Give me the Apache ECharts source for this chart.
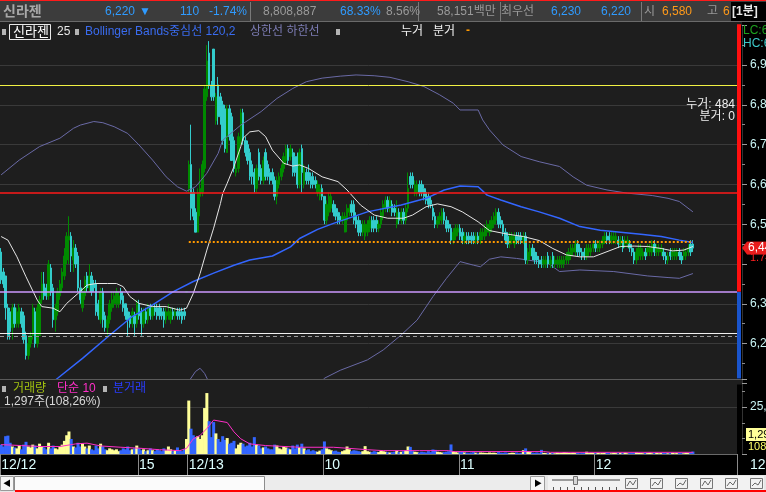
<!DOCTYPE html>
<html>
<head>
<meta charset="utf-8">
<script src="https://cdn.jsdelivr.net/npm/echarts@6.0.0/dist/echarts.min.js"></script>
<style>
html,body{margin:0;padding:0;background:#000;overflow:hidden}
#chart{width:766px;height:492px}
</style>
</head>
<body>
<div id="chart"></div>
<script>
// ================= DATA =================
// 1-minute candles [open, close, low, high]; 12/12 13:59..15:20, 15:30, then 12/13 09:00..12:43
const ohlc = [
[6430,6360,6350,6440],[6380,6350,6340,6390],[6370,6290,6260,6370],[6290,6220,6210,6300],[6280,6230,6210,6290],
[6240,6290,6210,6300],[6290,6250,6240,6300],[6250,6280,6240,6290],[6250,6290,6240,6300],[6280,6250,6240,6290],
[6270,6210,6200,6280],[6220,6170,6160,6230],[6170,6200,6160,6220],[6200,6220,6190,6230],[6220,6290,6210,6300],
[6280,6200,6190,6290],[6200,6290,6190,6300],[6220,6310,6220,6320],[6310,6350,6300,6380],[6350,6320,6310,6380],
[6340,6320,6310,6350],[6320,6400,6310,6410],[6390,6330,6320,6400],[6340,6260,6240,6350],[6260,6290,6230,6300],
[6280,6330,6270,6340],[6320,6350,6310,6360],[6340,6380,6330,6390],[6370,6420,6360,6440],[6410,6470,6400,6480],
[6460,6470,6400,6520],[6470,6420,6380,6480],[6410,6440,6380,6460],[6440,6400,6390,6450],[6420,6340,6330,6430],
[6340,6310,6300,6360],[6290,6330,6280,6340],[6320,6360,6310,6370],[6370,6340,6330,6380],[6340,6370,6330,6400],
[6370,6330,6320,6380],[6350,6340,6330,6360],[6350,6280,6270,6360],[6300,6270,6260,6310],[6260,6330,6250,6340],
[6330,6260,6240,6340],[6270,6240,6230,6280],[6240,6260,6220,6270],[6260,6300,6250,6310],[6290,6310,6280,6330],
[6300,6320,6290,6330],[6300,6330,6290,6340],[6300,6320,6290,6330],[6330,6310,6300,6340],[6320,6290,6280,6330],
[6300,6270,6260,6300],[6280,6260,6220,6290],[6270,6250,6240,6280],[6250,6280,6240,6290],[6270,6250,6220,6280],
[6250,6300,6240,6310],[6300,6270,6260,6310],[6280,6250,6220,6290],[6250,6280,6240,6290],[6280,6260,6250,6290],
[6260,6290,6250,6300],[6290,6270,6260,6300],[6270,6290,6260,6300],[6290,6280,6270,6300],[6290,6270,6260,6300],
[6290,6270,6260,6300],[6280,6270,6260,6290],[6280,6260,6240,6290],[6260,6280,6250,6290],[6270,6280,6260,6300],
[6260,6280,6250,6290],[6280,6270,6260,6290],[6270,6280,6260,6290],[6280,6270,6260,6290],[6280,6270,6260,6290],
[6280,6260,6250,6290],[6280,6270,6260,6290],[6330,6330,6330,6330],
[6590,6650,6580,6660],[6650,6540,6510,6750],[6580,6520,6510,6590],[6530,6480,6480,6540],[6480,6580,6480,6590],
[6570,6590,6520,6640],[6580,6650,6570,6660],[6640,6840,6630,6850],[6820,6910,6810,6950],[6930,6850,6840,6960],
[6850,6820,6810,6860],[6940,6820,6810,6940],[6760,6820,6750,6830],[6850,6770,6750,6870],[6820,6770,6750,6830],
[6800,6710,6700,6810],[6790,6690,6680,6800],[6680,6790,6680,6800],[6790,6720,6710,6800],[6770,6660,6660,6780],
[6710,6640,6630,6720],[6630,6640,6620,6650],[6640,6720,6630,6730],[6710,6780,6700,6790],[6780,6710,6700,6790],
[6710,6680,6670,6720],[6700,6660,6650,6710],[6680,6620,6610,6690],[6650,6620,6600,6660],[6630,6600,6580,6640],
[6590,6640,6580,6650],[6680,6620,6610,6690],[6640,6610,6600,6650],[6610,6660,6600,6670],[6680,6620,6610,6690],
[6650,6620,6610,6660],[6630,6610,6600,6640],[6630,6610,6600,6640],[6610,6570,6560,6620],[6570,6610,6550,6620],
[6600,6620,6590,6630],[6620,6640,6610,6650],[6640,6670,6630,6680],[6660,6690,6650,6700],[6690,6660,6650,6700],
[6670,6690,6660,6700],[6680,6630,6620,6690],[6670,6630,6620,6680],[6670,6600,6590,6680],[6600,6680,6590,6690],
[6690,6630,6580,6700],[6600,6640,6590,6650],[6630,6610,6600,6640],[6630,6610,6600,6650],[6620,6600,6590,6630],
[6620,6600,6590,6630],[6610,6600,6590,6620],[6580,6600,6570,6610],[6570,6590,6560,6600],[6590,6570,6560,6600],
[6570,6510,6500,6570],[6510,6550,6500,6560],[6530,6570,6520,6580],[6540,6570,6530,6580],[6550,6530,6520,6560],
[6540,6520,6510,6550],[6530,6510,6500,6540],[6520,6510,6500,6530],[6510,6520,6500,6530],[6480,6520,6480,6530],
[6510,6540,6480,6550],[6530,6540,6520,6550],[6550,6530,6520,6560],[6550,6510,6500,6560],[6520,6500,6490,6530],
[6510,6480,6470,6520],[6500,6480,6470,6510],[6480,6500,6470,6510],[6470,6500,6460,6510],[6480,6500,6470,6510],
[6490,6510,6480,6520],[6510,6490,6480,6520],[6510,6490,6480,6520],[6510,6490,6480,6520],[6490,6500,6480,6510],
[6500,6530,6490,6540],[6520,6550,6510,6560],[6540,6560,6530,6570],[6560,6540,6530,6570],[6540,6560,6530,6570],
[6550,6530,6520,6560],[6540,6530,6520,6550],[6500,6530,6490,6560],[6530,6510,6500,6540],[6510,6530,6500,6540],
[6530,6510,6500,6540],[6510,6540,6500,6550],[6540,6590,6530,6630],[6620,6600,6590,6630],[6620,6600,6590,6630],
[6580,6600,6570,6610],[6580,6600,6570,6610],[6600,6580,6570,6610],[6600,6580,6570,6610],[6590,6570,6560,6600],
[6580,6560,6550,6590],[6570,6550,6540,6580],[6560,6550,6540,6570],[6540,6520,6510,6550],[6520,6500,6490,6530],
[6500,6510,6490,6520],[6510,6520,6500,6530],[6510,6530,6500,6540],[6530,6510,6500,6540],[6510,6490,6480,6520],
[6500,6490,6480,6510],[6490,6460,6450,6500],[6460,6480,6450,6490],[6470,6490,6460,6500],[6480,6490,6470,6500],
[6490,6470,6460,6500],[6480,6460,6450,6490],[6460,6470,6450,6480],[6470,6460,6450,6480],[6470,6460,6450,6480],
[6470,6460,6450,6480],[6470,6460,6450,6480],[6460,6470,6450,6480],[6470,6460,6450,6480],[6460,6480,6450,6490],
[6470,6480,6460,6490],[6470,6490,6460,6500],[6480,6500,6470,6510],[6480,6500,6470,6510],[6490,6510,6480,6520],
[6500,6520,6490,6530],[6510,6530,6500,6540],[6530,6500,6490,6540],[6510,6500,6490,6520],[6500,6480,6470,6510],
[6480,6460,6450,6490],[6470,6450,6440,6480],[6450,6470,6440,6480],[6460,6470,6450,6480],[6450,6470,6440,6480],
[6470,6460,6450,6480],[6470,6460,6450,6480],[6470,6460,6450,6480],[6460,6470,6450,6480],[6470,6410,6400,6480],
[6410,6430,6400,6440],[6420,6440,6410,6450],[6440,6420,6410,6450],[6430,6410,6400,6440],[6420,6410,6400,6430],
[6410,6400,6390,6420],[6410,6400,6390,6420],[6400,6410,6390,6420],[6400,6410,6390,6420],[6420,6400,6390,6430],
[6400,6410,6390,6420],[6420,6400,6390,6430],[6400,6410,6390,6420],[6400,6410,6390,6420],[6400,6410,6390,6420],
[6400,6410,6390,6420],[6400,6410,6390,6420],[6410,6420,6400,6430],[6410,6430,6400,6440],[6420,6440,6410,6450],
[6430,6440,6420,6450],[6430,6450,6420,6460],[6450,6430,6420,6460],[6440,6430,6420,6450],[6430,6420,6410,6440],
[6430,6420,6410,6440],[6420,6440,6410,6450],[6430,6440,6420,6450],[6430,6440,6420,6450],[6440,6450,6430,6460],
[6450,6440,6430,6460],[6440,6450,6430,6460],[6440,6450,6430,6460],[6450,6460,6440,6470],[6460,6470,6450,6480],
[6470,6460,6450,6480],[6470,6460,6450,6480],[6460,6470,6450,6480],[6460,6470,6450,6480],[6460,6470,6450,6480],
[6460,6450,6440,6470],[6450,6460,6440,6470],[6460,6440,6430,6470],[6450,6460,6440,6470],[6450,6460,6440,6470],
[6450,6440,6430,6460],[6440,6430,6420,6450],[6430,6410,6400,6440],[6410,6430,6400,6440],[6420,6440,6410,6450],
[6420,6440,6410,6450],[6420,6430,6410,6440],[6430,6420,6410,6440],[6430,6440,6420,6450],[6430,6440,6420,6450],
[6430,6450,6420,6460],[6450,6430,6420,6460],[6430,6440,6420,6450],[6430,6440,6420,6450],[6430,6440,6420,6450],
[6430,6420,6410,6440],[6420,6410,6400,6430],[6410,6420,6400,6430],[6430,6420,6410,6440],[6420,6430,6410,6440],
[6420,6430,6410,6440],[6420,6430,6410,6440],[6430,6420,6410,6440],[6420,6410,6400,6430],[6420,6430,6410,6440],
[6420,6430,6410,6440],[6430,6440,6420,6450],[6450,6430,6420,6460],[6450,6440,6430,6460]
];

const volume = [
5000,4000,9500,9800,6000,4000,3500,3000,4500,2500,
5000,6500,4000,3500,5000,4500,3000,5500,4000,3500,
2500,6000,3000,4500,3000,2500,4000,5000,7000,10000,
12000,8000,4000,3500,6000,4000,5500,4000,3000,4500,
2500,2000,4500,3000,5500,4000,2500,2000,3000,2500,
2000,2500,1500,2000,3000,2500,4000,2000,2500,3000,
4500,3000,2000,2500,1500,2000,3000,2000,1500,2500,
2000,1500,3000,2000,4000,2500,1500,2000,3500,2000,
1500,2500,8000,
28500,13500,10000,9000,9500,8000,10000,24500,32500,17500,
9000,17000,11000,8000,6500,9500,7500,8500,5500,6000,
7000,3000,5000,6000,5500,4000,4500,6000,4000,9000,
5000,4500,3000,3500,4000,3000,2500,2500,5000,4500,
3000,2500,4000,3500,3000,2500,4500,3000,5000,3500,
5500,3000,2000,2500,1500,2000,1500,1200,1800,2500,
6700,3000,2500,2000,1500,1800,1200,1000,1500,2000,
4000,2500,1500,2000,1800,1500,1200,1500,4200,1500,
1200,1000,1500,1200,1000,1800,1500,1200,1000,800,
1000,1200,1800,1000,1200,1500,2000,4000,3800,1500,
1200,1000,800,1200,1000,800,1500,1000,2400,2200,
1200,1000,800,1000,1200,1500,5100,1500,1000,800,
1000,1200,800,700,600,800,1000,700,600,800,
700,600,500,800,600,700,500,1000,700,600,
800,600,500,700,600,800,500,600,2000,3000,
1500,1000,700,600,800,500,2200,600,500,700,
500,600,400,700,500,600,1000,800,600,500,
700,500,600,400,500,600,1200,500,700,600,
500,600,400,500,600,800,500,400,600,500,
400,600,500,700,400,500,600,500,800,600,
500,400,600,500,700,400,500,600,400,500,
600,500,400,500,600,400,500,700,500,400,
600,500,700,1297
];

// indicator lines: [candle index, value]
const ma25Points = [[0,6469],[3,6460],[7,6418],[11,6368],[16,6309],[18,6293],[23,6289],[26,6280],[29,6301],[34,6326],[38,6347],[42,6351],[47,6351],[51,6351],[54,6343],[57,6318],[61,6301],[67,6293],[73,6293],[79,6284],[82,6289],[85,6326],[88,6376],[91,6435],[94,6490],[97,6552],[98,6577],[100,6603],[103,6645],[106,6695],[107,6716],[110,6732],[114,6735],[117,6720],[120,6686],[125,6653],[129,6646],[132,6649],[136,6640],[142,6619],[149,6607],[153,6586],[159,6548],[165,6523],[171,6515],[178,6515],[182,6523],[188,6544],[193,6551],[199,6544],[204,6531],[211,6506],[216,6484],[224,6475],[231,6469],[238,6459],[244,6439],[250,6423],[256,6418],[262,6418],[268,6431],[274,6444],[280,6445],[286,6444],[292,6439],[297,6433],[302,6435],[306,6444]];
const bbMidPoints = [[13,6060],[25,6113],[36,6163],[48,6221],[58,6268],[67,6297],[76,6330],[85,6356],[94,6377],[103,6397],[110,6410],[120,6420],[128,6443],[132,6464],[140,6487],[147,6502],[162,6531],[177,6548],[188,6565],[196,6586],[203,6596],[211,6594],[215,6573],[221,6561],[230,6544],[238,6531],[247,6515],[256,6494],[265,6485],[274,6480],[283,6475],[292,6469],[300,6460],[306,6454]];
const bbUpperPoints = [[0,6624],[8,6661],[17,6695],[26,6716],[32,6741],[35,6749],[41,6758],[45,6755],[50,6745],[56,6728],[61,6699],[67,6661],[73,6619],[78,6594],[82,6583],[86,6594],[91,6628],[96,6678],[98,6711],[106,6749],[115,6783],[122,6816],[129,6841],[135,6858],[142,6867],[150,6872],[157,6875],[165,6873],[172,6869],[180,6858],[187,6846],[194,6825],[200,6804],[203,6787],[211,6787],[213,6762],[216,6737],[222,6699],[230,6670],[238,6657],[247,6645],[253,6619],[259,6598],[268,6586],[277,6578],[288,6572],[295,6565],[300,6557],[306,6531]];
const bbLowerPoints = [[75,6040],[83,6105],[86,6130],[88,6138],[90,6125],[93,6090],[101,6020],[123,6000],[137,6070],[143,6113],[150,6133],[162,6159],[169,6184],[177,6222],[184,6259],[191,6318],[197,6364],[203,6406],[209,6397],[212,6393],[216,6412],[221,6418],[228,6414],[233,6410],[242,6402],[247,6381],[256,6385],[271,6381],[286,6370],[295,6366],[300,6364],[306,6376]];
const volMa10Points = [[0,5000],[9,4500],[17,4000],[26,4000],[33,5400],[38,5800],[44,4300],[53,3600],[61,3100],[70,2300],[79,1800],[82,3000],[85,8100],[88,9900],[91,13600],[94,18100],[100,16800],[103,11800],[106,8100],[110,5400],[117,4500],[132,3600],[147,3600],[162,2300],[169,1800],[185,1800],[198,1800],[200,1300],[240,1300],[243,900],[306,900]];

// horizontal reference levels
const levelHigh = 6850, levelOpen = 6580, prevClose = 6330, levelWhite = 6225, currentLine = 6219, avgLine = 6455;
const avgLineFrom = 83, avgLineTo = 306;

// time axis
const tickIndex = [0, 61, 83, 143, 203, 263];
const tickText = ['12/12', '15', '12/13', '10', '11', '12'];
const SLOTS = 326;

// ================= BUILD =================
function hm(m){return String(Math.floor(m/60)).padStart(2,'0')+':'+String(m%60).padStart(2,'0');}
const categories = [];
for (let i = 0; i < SLOTS; i++) {
  if (i < 82) categories.push('12/12 ' + hm(13*60+59+i));
  else if (i === 82) categories.push('12/12 15:30');
  else categories.push('12/13 ' + hm(9*60 + i - 83));
}
const lastClose = ohlc[ohlc.length-1][1];
function isUp(i){
  const d = ohlc[i];
  if (d[1] !== d[0]) return d[1] > d[0];
  return i === 0 ? true : ohlc[i-1][1] <= d[1];
}
const FONT = '"Liberation Sans","Noto Sans CJK KR",sans-serif';
const UP = '#008a00', DOWN = '#33cccc';

const chart = echarts.init(document.getElementById('chart'), null, {renderer:'canvas'});
const option = {
  animation: false,
  backgroundColor: '#000',
  grid: [
    {left:0, right:29, top:25.2, height:358.2, show:true, backgroundColor:'#1e1e1e', borderWidth:0, containLabel:false, outerBoundsMode:'none'},
    {left:0, right:29, top:379, height:75, show:true, backgroundColor:'#1e1e1e', borderWidth:0, containLabel:false, outerBoundsMode:'none'}
  ],
  xAxis: [
    {type:'category', gridIndex:0, data:categories, boundaryGap:true, show:false},
    {type:'category', gridIndex:1, data:categories, boundaryGap:true,
     axisLine:{show:true, lineStyle:{color:'#6a6a6a'}},
     axisTick:{show:true, interval:(i)=>tickIndex.includes(i), length:21, lineStyle:{color:'#8a8a8a'}},
     axisLabel:{show:true, interval:(i)=>tickIndex.includes(i), formatter:(v,i)=>tickText[tickIndex.indexOf(i)],
       align:'left', color:'#dcffff', fontSize:14, fontFamily:FONT, margin:4},
     splitLine:{show:false}}
  ],
  yAxis: [
    {type:'value', gridIndex:0, position:'right', offset:5, min:6100, max:7000, interval:100,
     axisLine:{show:true, lineStyle:{color:'#333'}},
     axisTick:{show:true, length:5, lineStyle:{color:'#9a9a9a'}},
     minorTick:{show:true, splitNumber:2, length:3, lineStyle:{color:'#8a8a8a'}},
     axisLabel:{margin:8, color:'#c8f4f4', fontSize:12, fontFamily:FONT, showMinLabel:false, showMaxLabel:false,
       formatter:(v)=> Math.abs(v-lastClose) <= 50 ? '' : v.toLocaleString('en-US')},
     splitLine:{show:true, lineStyle:{color:'#3a3a3a', width:1}}},
    {type:'value', gridIndex:1, position:'right', offset:5, min:0, max:40000, interval:25000,
     axisLine:{show:true, lineStyle:{color:'#333'}},
     axisTick:{show:true, length:5, lineStyle:{color:'#9a9a9a'}},
     minorTick:{show:true, splitNumber:3, length:3, lineStyle:{color:'#8a8a8a'}},
     axisLabel:{margin:8, color:'#c8f4f4', fontSize:12, fontFamily:FONT,
       formatter:(v)=> v === 25000 ? '25,000' : ''},
     splitLine:{show:true, lineStyle:{color:'#3a3a3a', width:1}}}
  ],
  series: [
    {type:'line', name:'lower', xAxisIndex:0, yAxisIndex:0, data:bbLowerPoints, symbol:'none', z:1, silent:true,
     lineStyle:{color:'#6a6aa6', width:1},
     markLine:{silent:true, symbol:['none','none'], label:{show:false}, animation:false,
       data:[
         {yAxis:levelHigh, lineStyle:{color:'#f2f244', width:1, type:'solid'}},
         {yAxis:levelOpen, lineStyle:{color:'#ff1a1a', width:1.5, type:'solid'}},
         {yAxis:prevClose, lineStyle:{color:'#cc99ff', width:1.5, type:'solid'}},
         {yAxis:levelWhite, lineStyle:{color:'#f0f0f0', width:1, type:'solid'}},
         {yAxis:currentLine, lineStyle:{color:'#9a9a9a', width:1, type:[4,3]}}
       ]}},
    {type:'candlestick', name:'price', xAxisIndex:0, yAxisIndex:0, data:ohlc, barWidth:2, z:2, silent:true,
     itemStyle:{color:UP, color0:DOWN, borderColor:UP, borderColor0:DOWN, borderWidth:1},
     markLine:{silent:true, symbol:['none','none'], label:{show:false}, animation:false,
       data:[[{coord:[categories[avgLineFrom], avgLine]},{coord:[categories[avgLineTo], avgLine]}]],
       lineStyle:{color:'#ff9900', width:2, type:[2,2]}}},
    {type:'line', name:'upper', xAxisIndex:0, yAxisIndex:0, data:bbUpperPoints, symbol:'none', z:3, silent:true,
     lineStyle:{color:'#6a6aa6', width:1}},
    {type:'line', name:'mid', xAxisIndex:0, yAxisIndex:0, data:bbMidPoints, symbol:'none', z:3, silent:true,
     lineStyle:{color:'#3366ff', width:1.5}},
    {type:'line', name:'ma25', xAxisIndex:0, yAxisIndex:0, data:ma25Points, symbol:'none', z:3, silent:true,
     lineStyle:{color:'#e6e6e6', width:1}},
    {type:'bar', name:'volume', xAxisIndex:1, yAxisIndex:1, data:volume, barWidth:3, z:5, silent:true,
     itemStyle:{color:(p)=> isUp(p.dataIndex) ? '#ffff99' : '#3366ff'}},
    {type:'line', name:'volma', xAxisIndex:1, yAxisIndex:1, data:volMa10Points, symbol:'none', z:6, silent:true,
     lineStyle:{color:'#ff2fc8', width:1}}
  ]
};
chart.setOption(option);

// ================= DECORATION / TEXT =================
function R(x,y,w,h,fill,z,stroke){return {type:'rect', z:z||40, silent:true, shape:{x,y,width:w,height:h},
  style:{fill:fill, stroke:stroke||null, lineWidth:stroke?1:0}};}
function T(x,y,text,fill,size,o){o=o||{};return {type:'text', z:o.z||50, silent:true, x:x, y:y,
  style:{text:text, fill:fill, font:(o.bold?'bold ':'')+size+'px '+FONT, textAlign:o.align||'left',
  textVerticalAlign:'middle', verticalAlign:'middle'}};}

const yTop = chart.convertToPixel({yAxisIndex:0}, 7000);
const yPrev = chart.convertToPixel({yAxisIndex:0}, prevClose);
const yLast = chart.convertToPixel({yAxisIndex:0}, lastClose);
const pct = ((lastClose - prevClose) / prevClose * 100).toFixed(2);

const g = [
  R(0,380,742,4.5,'#1e1e1e',4),
  R(0,379,742,1,'#5a5a5a',7),
  R(737,yTop-1,4,yPrev-yTop+1,'#ff1010',10),
  R(737,yPrev,4,378.5-yPrev,'#1a55cc',10),
  // header
  R(0,0,766,22,'#3c3c3c'),
  R(0,0,766,1,'#ff1a1a',41),
  R(0,21,766,1,'#6a6a6a',41),
  R(250,2,1,19,'#7a7a7a',41), R(418,2,1,19,'#7a7a7a',41), R(500,2,1,19,'#7a7a7a',41), R(641,2,1,19,'#7a7a7a',41),
  R(731,2,35,19,'#000',41),
  T(3,12,'신라젠','#a9a9a9',14,{bold:true}),
  T(105,12,'6,220','#2f9bff',12), T(139,12,'▼','#2f9bff',12),
  T(180,12,'110','#2f9bff',12), T(209,12,'-1.74%','#2f9bff',12),
  T(263,12,'8,808,887','#9a9a9a',12),
  T(340,12,'68.33%','#2f9bff',12),
  T(386,12,'8.56%','#9a9a9a',12),
  T(437,12,'58,151백만','#9a9a9a',12),
  T(501,12,'최우선','#9a9a9a',12),
  T(551,12,'6,230','#2f9bff',12), T(601,12,'6,220','#2f9bff',12),
  T(644,12,'시','#9a9a9a',12), T(662,12,'6,580','#ff9a1a',12),
  T(707,12,'고','#9a9a9a',12), T(723,12,'6','#ff9a1a',12),
  T(732,12,'[1분]','#e8e8e8',12,{bold:true}),
  // price legend
  R(0,22,742,4,'#1e1e1e',5),
  R(2,29,4,6,'#b4b4b4'),
  {type:'rect', z:45, silent:true, shape:{x:9.5,y:24.5,width:41,height:15}, style:{fill:'none', stroke:'#e8e8e8', lineWidth:1}},
  T(13,32,'신라젠','#ffffff',13),
  T(57,32,'25','#e8e8e8',12),
  R(75,29,4,6,'#b4b4b4'),
  T(85,32,'Bollinger Bands중심선 120,2','#3a6cf0',12),
  T(250,32,'상한선 하한선','#7c7cb4',12),
  R(336,29,4,6,'#b4b4b4'),
  T(401,32,'누거','#f0f0f0',12), T(433,32,'분거','#f0f0f0',12), T(466,31,'-','#ff9900',12,{bold:true}),
  T(735,105,'누거: 484','#f0f0f0',12,{align:'right'}),
  T(735,117,'분거: 0','#f0f0f0',12,{align:'right'}),
  // volume legend
  R(2,386,4,6,'#b4b4b4'),
  T(13,389,'거래량','#a0c010',12),
  T(57,389,'단순 10','#ff2fc8',12),
  R(103,386,4,6,'#b4b4b4'),
  T(113,389,'분거래','#2a3cff',12),
  T(4,402,'1,297주(108,26%)','#d8d8d8',12),
  // right column texts
  T(743,31,'LC:6,160','#1ea01e',12),
  T(743,44,'HC:6,960','#3cc8c8',12),
  T(750,465,'12:43','#dcffff',14),
  R(746,428,20,13,'#ffff99',45),
  T(748,435,'1,297','#000000',11,{z:46}),
  T(748,447,'108.26%','#ffff66',11),
  // last price label
  T(750,yLast+10,pct+'%','#ff2020',11,{z:44}),
  {type:'polygon', z:45, silent:true, shape:{points:[[742,yLast],[747,yLast-6.5],[747,yLast+6.5]]}, style:{fill:'#e81c1c'}},
  R(747,yLast-6.5,19,13,'#e81c1c',45),
  T(748,yLast,lastClose.toLocaleString('en-US'),'#ffffff',12,{z:46}),
  // scroll bar
  R(0,475,766,17,'#e6e6e6'),
  R(0.5,476.5,13,14,'#f6f6f6',41,'#9a9a9a'),
  T(3,484,'◀','#000',8,{z:51}),
  R(14.5,476.5,250,14,'#fbfbfb',41,'#8c8c8c'),
  R(265,477,265,13,'#ececec',41),
  R(530.5,476.5,14,14,'#f6f6f6',41,'#9a9a9a'),
  T(534,484,'▶','#000',8,{z:51}),
  R(548,476,216,15,'#f2f2f2',41),
  R(552,479,68,2,'#9a9a9a',42),
  R(573.5,476.5,4,8,'#d6d6d6',43,'#707070'),
  R(15,490,751,2,'#ff0000',44)
];
for (let k = 0; k < 10; k++) g.push(R(553 + k*7, 487, 1, 3, '#555', 42));
const iconX = [631, 656, 681, 706, 731, 756];
iconX.forEach((x, k) => {
  g.push({type:'rect', z:43, silent:true, shape:{x:x-5.5,y:478.5,width:12,height:10}, style:{fill:'none', stroke:'#777', lineWidth:1}});
  g.push({type:'polyline', z:43, silent:true, shape:{points:[[x-4,486],[x-1,481+k%3],[x+2,485],[x+5,480]]}, style:{stroke:'#666', fill:null, lineWidth:1}});
});
chart.setOption({graphic: g});
</script>
</body>
</html>
